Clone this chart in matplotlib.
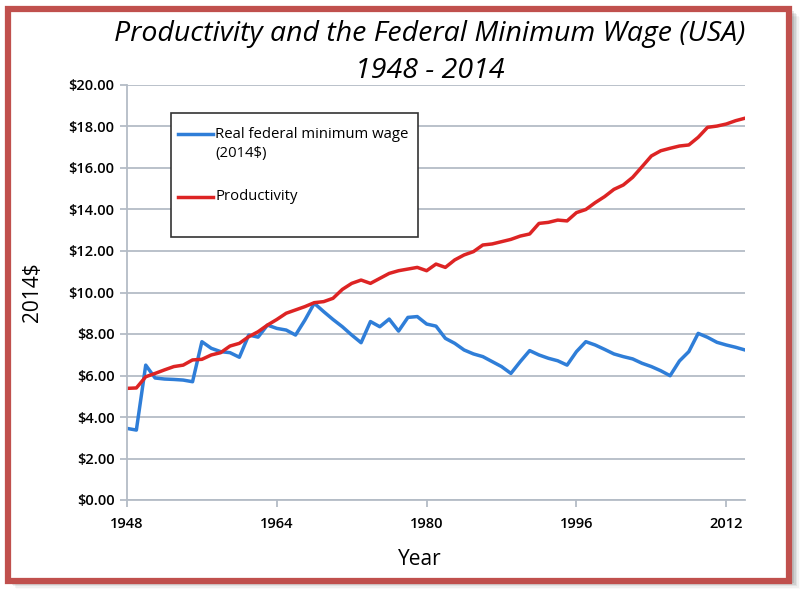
import matplotlib
matplotlib.use('Agg')
import matplotlib.pyplot as plt
from matplotlib.patches import Rectangle
from matplotlib.lines import Line2D
from matplotlib.ticker import FuncFormatter

years = list(range(1948, 2015))

# real federal minimum wage, 2014 dollars
min_wage = [3.45, 3.37, 6.50, 5.88, 5.83, 5.81, 5.78, 5.70, 7.63, 7.31,
            7.15, 7.10, 6.88, 7.95, 7.85, 8.43, 8.27, 8.19, 7.95, 8.67,
            9.48, 9.08, 8.70, 8.35, 7.95, 7.58, 8.60, 8.35, 8.72, 8.14,
            8.80, 8.84, 8.48, 8.38, 7.79, 7.55, 7.23, 7.04, 6.91, 6.67,
            6.43, 6.10, 6.67, 7.20, 6.99, 6.83, 6.71, 6.50, 7.15, 7.63,
            7.47, 7.26, 7.04, 6.91, 6.80, 6.59, 6.43, 6.23, 5.99, 6.70,
            7.15, 8.03, 7.84, 7.60, 7.47, 7.36, 7.23]

productivity = [5.38, 5.40, 5.94, 6.10, 6.27, 6.43, 6.50, 6.75, 6.78, 6.99,
                7.10, 7.42, 7.55, 7.87, 8.11, 8.43, 8.70, 9.00, 9.16, 9.32,
                9.51, 9.56, 9.72, 10.15, 10.44, 10.60, 10.44, 10.68, 10.92, 11.05,
                11.13, 11.21, 11.05, 11.37, 11.21, 11.57, 11.81, 11.97, 12.29, 12.34,
                12.45, 12.56, 12.72, 12.82, 13.33, 13.38, 13.49, 13.45, 13.85, 14.00,
                14.33, 14.62, 14.97, 15.18, 15.55, 16.06, 16.58, 16.83, 16.95, 17.06,
                17.11, 17.48, 17.96, 18.02, 18.12, 18.28, 18.40]

x_ticks = [1948, 1964, 1980, 1996, 2012]
y_ticks = [0, 2, 4, 6, 8, 10, 12, 14, 16, 18, 20]

blue = '#2F7ED8'
red = '#DD2424'
grid_col = '#B4BCC6'

plt.rcParams['font.family'] = ['Open Sans', 'DejaVu Sans']

fig = plt.figure(figsize=(8.06, 5.93), dpi=100)

# shadow + red frame around the whole chart
for i, a in enumerate([0.10, 0.08, 0.06, 0.04, 0.02]):
    off = (2 + i * 1.5) / 806
    fig.patches.append(Rectangle((8 / 806 + off, 12 / 593 - off * 806 / 593),
                                 784 / 806, 572 / 593, transform=fig.transFigure,
                                 facecolor='black', edgecolor='none', alpha=a, zorder=0))
fig.patches.append(Rectangle((8 / 806, 12 / 593), 781 / 806, 572 / 593,
                             transform=fig.transFigure, facecolor='white',
                             edgecolor='#C0504D', linewidth=4.5, zorder=1))

ax = fig.add_axes([127 / 806, 1 - 500 / 593, 618 / 806, 415 / 593])
ax.set_facecolor('none')
ax.set_zorder(2)

ax.plot(years, min_wage, color=blue, linewidth=2.5, solid_joinstyle='round')
ax.plot(years, productivity, color=red, linewidth=2.5, solid_joinstyle='round')

ax.set_xlim(1948, 2014)
ax.set_ylim(0, 20)
ax.set_xticks(x_ticks)
ax.set_yticks(y_ticks)
ax.yaxis.set_major_formatter(FuncFormatter(lambda v, p: '${:.2f}'.format(v)))
ax.grid(axis='y', color=grid_col, linewidth=1.3)
ax.set_axisbelow(True)
for s in ['top', 'right']:
    ax.spines[s].set_visible(False)
for s in ['left', 'bottom']:
    ax.spines[s].set_color(grid_col)
    ax.spines[s].set_linewidth(1.3)
ax.tick_params(axis='both', color=grid_col, width=1.3, length=5, labelsize=10.5)
ax.tick_params(axis='x', pad=7)
ax.tick_params(axis='y', pad=4)
for lab in ax.get_xticklabels() + ax.get_yticklabels():
    lab.set_fontweight('semibold')

ax.set_xlabel('Year', fontsize=15)
ax.set_ylabel('2014$', fontsize=15)
ax.xaxis.set_label_coords(0.474, -0.118)
ax.yaxis.set_label_coords(-0.136, 0.50)

fig.text(430 / 806, 1 - 34 / 593, 'Productivity and the Federal Minimum Wage (USA)',
         fontsize=20.5, style='italic', ha='center', va='center')
fig.text(430 / 806, 1 - 71 / 593, '1948 - 2014',
         fontsize=20.5, style='italic', ha='center', va='center')

# legend box drawn by hand to match the Excel layout
fig.patches.append(Rectangle((171 / 806, 1 - 237 / 593), 247 / 806, 124 / 593,
                             transform=fig.transFigure, facecolor='white',
                             edgecolor='#333333', linewidth=1.2, zorder=3))
fig.lines.append(Line2D([178 / 806, 213 / 806], [1 - 134 / 593, 1 - 134 / 593],
                        transform=fig.transFigure, color=blue, linewidth=2.5, zorder=4))
fig.lines.append(Line2D([178 / 806, 213 / 806], [1 - 197 / 593, 1 - 197 / 593],
                        transform=fig.transFigure, color=red, linewidth=2.5, zorder=4))
fig.text(215 / 806, 1 - 144 / 593, 'Real federal minimum wage\n(2014$)', fontsize=10.7,
         ha='left', va='center', linespacing=1.45, zorder=5)
fig.text(215 / 806, 1 - 197 / 593, 'Productivity', fontsize=10.7,
         ha='left', va='center', zorder=5)

fig.savefig('out.png', dpi=100)
